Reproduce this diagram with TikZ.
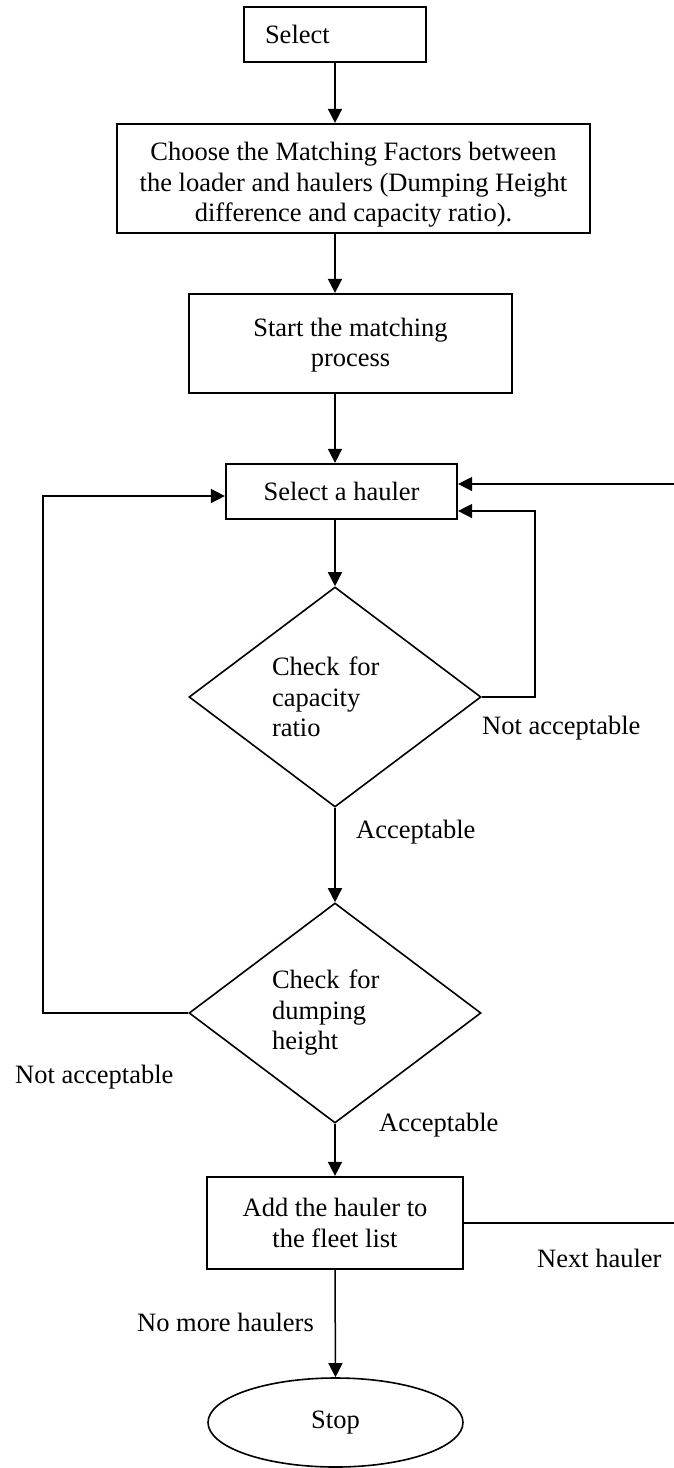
\documentclass[tikz,border=0pt]{standalone}
\usepackage{fontspec}
\setmainfont{Liberation Serif}
\usetikzlibrary{shapes.geometric,arrows.meta}
\begin{document}
\begin{tikzpicture}[x=1pt,y=-1pt,
  txt/.style={font=\fontsize{26.5}{30.5}\selectfont},
  procbox/.style={txt,draw,line width=2.2pt,rectangle,inner sep=0pt,align=center},
  decision/.style={txt,draw,line width=1.6pt,diamond,inner sep=0pt,minimum width=292pt,minimum height=220pt,text width=126pt,align=left},
  term/.style={txt,draw,line width=1.6pt,ellipse,minimum width=255pt,minimum height=89pt,inner sep=0pt},
  flow/.style={line width=1.5pt,-{Triangle[length=14pt,width=14pt]}},
  lbl/.style={txt,inner sep=0pt,anchor=west}]
\useasboundingbox (0,0) rectangle (674,1468);
\fill[white] (0,0) rectangle (674,1468);

\node[procbox,minimum width=182pt,minimum height=55pt,text width=140pt,align=left] (sel) at (335,34.5) {Select};
\node[procbox,minimum width=473pt,minimum height=109pt] (choose) at (353.5,178.5) {\rule{0pt}{31pt}Choose the Matching Factors between\\the loader and haulers (Dumping Height\\difference and capacity ratio).};
\node[procbox,minimum width=323pt,minimum height=99pt] (start) at (350.5,343.5) {\rule{0pt}{22pt}Start the matching\\process};
\node[procbox,minimum width=231pt,minimum height=55pt] (haul) at (341.5,491.5) {Select a hauler};
\node[decision] (cap) at (335,697) {Check for\\capacity\\ratio};
\node[decision] (dump) at (335,1013) {Check for\\dumping\\height};
\node[procbox,minimum width=256pt,minimum height=92pt] (add) at (335,1223) {Add the hauler to\\the fleet list};
\node[term] (stop) at (335.5,1422.5) {Stop};

\draw[flow] (sel.south) -- (sel.south |- choose.north);
\draw[flow] (sel.south |- choose.south) -- (sel.south |- start.north);
\draw[flow] (sel.south |- start.south) -- (sel.south |- haul.north);
\draw[flow] (sel.south |- haul.south) -- (cap.north);
\draw[flow] (cap.south) -- (dump.north);
\draw[flow] (dump.south) -- (add.north);
\draw[flow] (add.south) -- (stop.north);

\coordinate (capR) at (535,511);
\draw[flow] (cap.east) -| (capR) -- (capR -| haul.east);
\coordinate (dumpL) at (43,496);
\draw[flow] (dump.west) -| (dumpL) -- (dumpL -| haul.west);
\coordinate (nxt) at (680,484);
\draw[flow] (add.east) -| (nxt) -- (nxt -| haul.east);

\node[lbl] (na1) at (482,728) {Not acceptable};
\node[lbl] (na2) at (15,1077) {Not acceptable};
\node[lbl] (acc1) at (356,832) {Acceptable};
\node[lbl] (acc2) at (379,1125) {Acceptable};
\node[lbl] (nh) at (537,1258) {Next hauler};
\node[lbl] (nm) at (137,1322) {No more haulers};
\end{tikzpicture}
\end{document}
